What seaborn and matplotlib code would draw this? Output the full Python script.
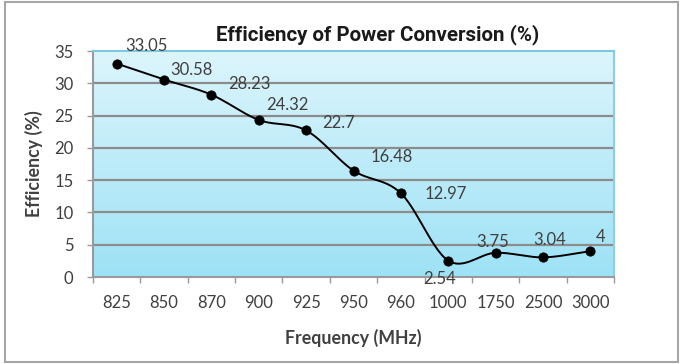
import numpy as np
import pandas as pd
import matplotlib
matplotlib.use("Agg")
import matplotlib.pyplot as plt
import seaborn as sns
from matplotlib.patches import Rectangle
from matplotlib.colors import LinearSegmentedColormap

categories = ["825", "850", "870", "900", "925", "950", "960", "1000", "1750", "2500", "3000"]
efficiency = [33.05, 30.58, 28.23, 24.32, 22.7, 16.48, 12.97, 2.54, 3.75, 3.04, 4]
label_texts = ["33.05", "30.58", "28.23", "24.32", "22.7", "16.48", "12.97", "2.54", "3.75", "3.04", "4"]
yticks = [0, 5, 10, 15, 20, 25, 30, 35]

sns.set_theme(style="white")
plt.rcParams["font.family"] = ["Lato", "DejaVu Sans"]

df = pd.DataFrame({"pos": np.arange(len(categories)), "eff": efficiency})

fig = plt.figure(figsize=(6.83, 3.64), dpi=100)
ax = fig.add_axes([93/683, 1 - 277/364, (614-93)/683, (277-51)/364])

# gradient background
grad = np.linspace(0, 1, 256).reshape(-1, 1)
cmap = LinearSegmentedColormap.from_list("bg", ["#dcf5fc", "#9ee2f6"])
ax.imshow(grad, aspect="auto", cmap=cmap, extent=[0, 1, 0, 1],
          transform=ax.transAxes, zorder=0)

ax.set_xlim(-0.5, len(categories) - 0.5)
ax.set_ylim(0, 35)

# gridlines
for t in yticks[1:-1]:
    ax.axhline(t, color="#8c8c8c", lw=1.6, zorder=1)

# smooth curve (Catmull-Rom through the data points)
x = df["pos"].to_numpy(dtype=float)
y = df["eff"].to_numpy(dtype=float)
px = np.concatenate([[2*x[0]-x[1]], x, [2*x[-1]-x[-2]]])
py = np.concatenate([[2*y[0]-y[1]], y, [2*y[-1]-y[-2]]])
sx, sy = [], []
tt = np.linspace(0, 1, 30)
for i in range(1, len(px) - 2):
    p0, p1, p2, p3 = [np.array([px[j], py[j]]) for j in range(i-1, i+3)]
    for t in tt:
        pt = 0.5 * ((2*p1) + (-p0 + p2)*t + (2*p0 - 5*p1 + 4*p2 - p3)*t**2
                    + (-p0 + 3*p1 - 3*p2 + p3)*t**3)
        sx.append(pt[0]); sy.append(pt[1])
curve = pd.DataFrame({"x": sx, "y": sy})
sns.lineplot(data=curve, x="x", y="y", ax=ax, color="black", lw=1.4, sort=False, zorder=3)
sns.scatterplot(data=df, x="pos", y="eff", ax=ax, color="black", s=45, edgecolor="black", zorder=4)

# data labels (offsets in pixels: dx, dy(up positive), ha)
offsets = [(9, 18, "left"), (6, 10, "left"), (17, 11, "left"), (7, 15, "left"),
           (16, 7, "left"), (17, 14, "left"), (24, -1, "left"), (-9, -18, "center"),
           (-3, 11, "center"), (7, 17, "center"), (10, 14, "center")]
for i, (v, lab) in enumerate(zip(efficiency, label_texts)):
    dx, dy, ha = offsets[i]
    ax.annotate(lab, (i, v), xytext=(dx, dy), textcoords="offset pixels",
                ha=ha, va="center", fontsize=12, color="#404040", zorder=5,
                annotation_clip=False)

# axes styling
ax.spines["top"].set_color("#7fc8e0")
ax.spines["right"].set_color("#8ecde3")
for side in ["top", "right"]:
    ax.spines[side].set_linewidth(1.5)
for side in ["left", "bottom"]:
    ax.spines[side].set_color("#9a9a9a")
    ax.spines[side].set_linewidth(1.5)

ax.set_yticks(yticks)
ax.set_yticklabels([str(t) for t in yticks], fontsize=12, color="#404040")
ax.set_xticks(np.arange(len(categories)))
ax.set_xticklabels(categories, fontsize=12, color="#404040")
ax.tick_params(axis="y", length=4, width=1, color="#9a9a9a", left=True, pad=10)
ax.tick_params(axis="x", length=0, pad=13)
ax.set_xticks(np.arange(-0.5, len(categories), 1.0), minor=True)
ax.tick_params(axis="x", which="minor", length=4, width=1, color="#9a9a9a", bottom=True)

ax.set_xlabel("Frequency (MHz)", fontsize=12.8, fontweight="bold", color="#404040", labelpad=13)
ax.set_ylabel("Efficiency (%)", fontsize=12.8, fontweight="bold", color="#404040", labelpad=8)

fig.text(378/683, 1 - 35/364, "Efficiency of Power Conversion (%)", ha="center", va="center",
         fontsize=14.8, fontweight="bold", color="#1a1a1a",
         family=["Roboto", "DejaVu Sans"])

# outer frame
fig.patches.append(Rectangle((0.008, 0.006), 0.984, 0.988, transform=fig.transFigure,
                             fill=False, edgecolor="#a6a6a6", lw=1.5))

fig.savefig("out.png", dpi=100)
